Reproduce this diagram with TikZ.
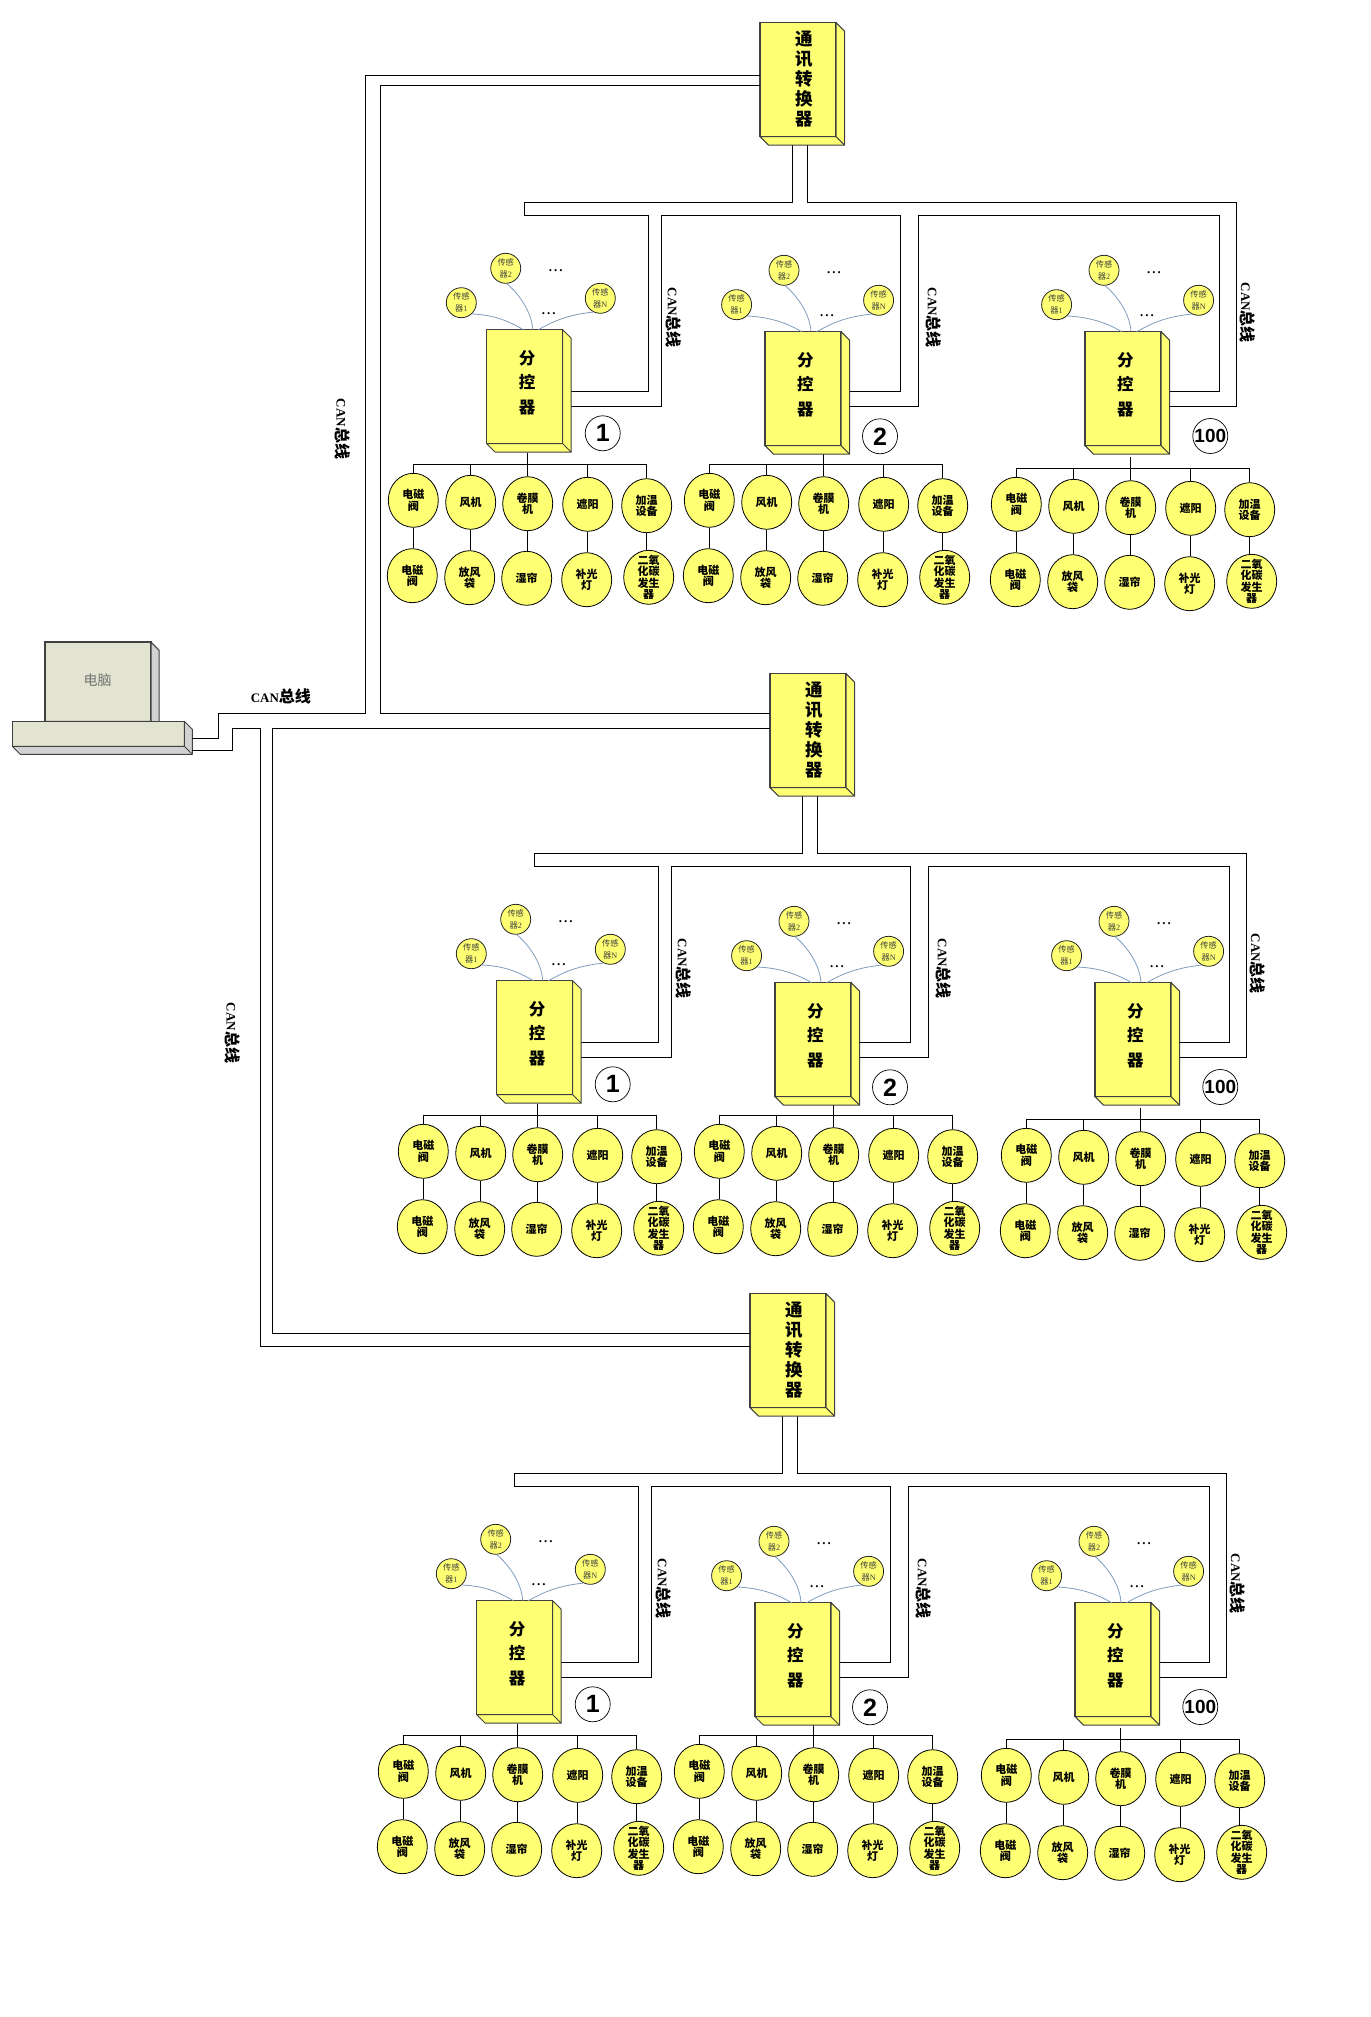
\documentclass[tikz,border=0pt]{standalone}
\usepackage{fontspec}
\setmainfont{Liberation Serif}
\newfontfamily\cjk{Noto Sans CJK SC}
\newfontfamily\numf{Liberation Sans}
\usetikzlibrary{shapes.geometric,calc}
\definecolor{boxyellow}{HTML}{FFFF73}
\definecolor{pcbody}{HTML}{E3E3D1}
\definecolor{pcgrey}{HTML}{D2D2D2}
\definecolor{sensorline}{HTML}{7F9DBD}
\tikzset{
bus/.style={line width=0.9pt},
ctrlbox/.style={rectangle, draw=black!75, line width=1.2pt, fill=boxyellow, minimum width=76pt, minimum height=114pt, inner sep=0pt, outer sep=0pt},
boxside/.style={draw=black!75, line width=1pt, line join=round, fill=boxyellow},
pcside/.style={draw=black!75, line width=1pt, line join=round, fill=pcgrey},
pcbox/.style={rectangle, draw=black!75, line width=1.2pt, fill=pcbody, inner sep=0pt, outer sep=0pt},
convtext/.style={align=center, inner sep=0pt, font=\cjk\bfseries\fontsize{17.5}{20}\selectfont},
boxtext/.style={align=center, inner sep=0pt, font=\cjk\bfseries\fontsize{16.5}{24.8}\selectfont},
device/.style={ellipse, draw=black, line width=0.8pt, fill=boxyellow, minimum width=50pt, minimum height=54pt, inner sep=-10pt, align=center, font=\cjk\bfseries\fontsize{11}{11.5}\selectfont},
sensor/.style={circle, draw=black!85, line width=0.8pt, fill=boxyellow, minimum size=30pt, inner sep=-4pt, align=center, text=black!75, font=\fontsize{8.2}{12}\selectfont},
sensorlink/.style={draw=sensorline, line width=0.8pt},
dots/.style={inner sep=0pt, font=\bfseries\fontsize{13}{13}\selectfont},
numcircle/.style={circle, draw=black, line width=0.7pt, minimum size=35pt, inner sep=0pt, font=\numf\bfseries\fontsize{25}{25}\selectfont},
canlabel/.style={inner sep=0pt, font=\bfseries\fontsize{13}{16}\selectfont},
}
\newcommand{\canword}{CAN{\cjk\fontsize{16}{16}\selectfont 总线}}
\newcommand{\sensorword}[1]{{\cjk 传感}\\{\cjk 器}#1}
\newcommand{\dotword}{.\hspace{2pt}.\hspace{2pt}.}
\newcommand{\boxface}[3][boxside]{
\filldraw[#1] (#2.north east) -- ($(#2.north east)+(#3,#3)$) -- ($(#2.south east)+(#3,#3)$) -- ($(#2.south west)+(#3,#3)$) -- (#2.south west) -- (#2.south east) -- cycle;
\draw[#1] (#2.south east) -- ($(#2.south east)+(#3,#3)$);
}
\newcommand{\ctrlunit}[6]{
\begin{scope}[shift={(#2,#3)}]
\node[sensor] (#1s1) at (461.3-#6,302.7){\sensorword{1}};
\node[sensor] (#1s2) at (505.7,268.3){\sensorword{2}};
\node[sensor] (#1s3) at (600.3,298.3){\sensorword{N}};
\node[ctrlbox] (#1box) at (524.7,386.7){};
\node[boxtext] (#1text) at (527,382.7){分\\控\\器};
\node[dots] (#1dota) at (555.7,270.5){\dotword};
\node[dots] (#1dotb) at (548.7,313.5){\dotword};
\draw[sensorlink] (#1s1.313) .. controls +(22,1) and +(-15,-9) .. ([xshift=-1.4pt]#1box.north);
\draw[sensorlink] (#1s2.274) .. controls +(12,10) and +(-1,-18) .. ([xshift=8pt]#1box.north);
\draw[sensorlink] (#1s3.243) .. controls +(-25,3) and +(18,-10) .. ([xshift=13.6pt]#1box.north);
\end{scope}
\begin{scope}[shift={(#4,#5)}]
\node[device] (#1c1) at (413.3,500.3){电磁\\阀};
\node[device] (#1c2) at (470.7,502.3){风机};
\node[device] (#1c3) at (527.7,503.7){卷膜\\机};
\node[device] (#1c4) at (587.7,504.3){遮阳};
\node[device] (#1c5) at (646.7,505.7){加温\\设备};
\node[device] (#1d1) at (412.3,575.7){电磁\\阀};
\node[device] (#1d2) at (469.7,577.7){放风\\袋};
\node[device] (#1d3) at (526.7,578.3){湿帘};
\node[device] (#1d4) at (586.7,579.7){补光\\灯};
\node[device] (#1d5) at (648.7,577.3){二氧\\化碳\\发生\\器};
\coordinate (#1bus) at (527.3,464.3);
\coordinate (#1stub) at (527.3,453);
\draw[bus] (#1stub) -- (#1bus);
\draw[bus] (#1c1.north) |- (#1bus) -| (#1c5.north);
\draw[bus] (#1c2.north) -- (#1c2.north |- #1bus);
\draw[bus] (#1c3.north) -- (#1c3.north |- #1bus);
\draw[bus] (#1c4.north) -- (#1c4.north |- #1bus);
\draw[bus] (#1c1.south) -- (#1c1.south |- #1d1.north);
\draw[bus] (#1c2.south) -- (#1c2.south |- #1d2.north);
\draw[bus] (#1c3.south) -- (#1c3.south |- #1d3.north);
\draw[bus] (#1c4.south) -- (#1c4.south |- #1d4.north);
\draw[bus] (#1c5.south) -- (#1c5.south |- #1d5.north);
\end{scope}
}
\newcommand{\ctrlblock}[3]{
\begin{scope}[shift={(#2,#3)}]
\node[ctrlbox] (#1conv) at (798,79.7){};
\node[convtext] (#1text) at (804,78.7){通\\讯\\转\\换\\器};
\ctrlunit{#1a}{0}{0}{0}{0}{0}
\ctrlunit{#1b}{278.3}{2}{296}{0}{3}
\ctrlunit{#1c}{598.3}{2}{603}{4}{3}
\node[numcircle] (#1anum) at (602.7,433.3){1};
\node[numcircle] (#1bnum) at (880,436.3){2};
\node[numcircle, font=\numf\bfseries\fontsize{19}{19}\selectfont] (#1cnum) at (1210.3,436){100};
\draw[bus] ([xshift=-5.7pt]#1conv.south) -- (792.3,202.3) -- (524.3,202.3) -- (524.3,215.3) -- (648.3,215.3) -- (648.3,391.3) -- ([yshift=-4.6pt]#1abox.east);
\draw[bus] ([yshift=-19.6pt]#1abox.east) -- (661.3,406.3) -- (661.3,215.3) -- (900.3,215.3) -- (900.3,391.3) -- ([yshift=-2.6pt]#1bbox.east);
\draw[bus] ([yshift=-17.6pt]#1bbox.east) -- (918.3,406.3) -- (918.3,215.3) -- (1219.3,215.3) -- (1219.3,391.3) -- ([yshift=-2.6pt]#1cbox.east);
\draw[bus] ([xshift=9.3pt]#1conv.south) -- (807.3,202.3) -- (1236.7,202.3) -- (1236.7,406.3) -- ([yshift=-17.6pt]#1cbox.east);
\boxface{#1conv}{8.5}
\boxface{#1abox}{8.5}
\boxface{#1bbox}{8.5}
\boxface{#1cbox}{8.5}
\node[canlabel, rotate=-90] (#1cana) at (674,317.7){\canword};
\node[canlabel, rotate=-90] (#1canb) at (934,317.7){\canword};
\node[canlabel, rotate=-90] (#1canc) at (1247.3,312.7){\canword};
\end{scope}
}
\begin{document}
\begin{tikzpicture}[x=1pt,y=-1pt]
\useasboundingbox (0,0) rectangle (1370,2017);
\ctrlblock{u}{0}{0}
\ctrlblock{v}{10}{651}
\ctrlblock{w}{-10}{1271}
\node[pcbox, minimum width=106pt, minimum height=79.3pt] (monitor) at (98,681.7){};
\boxface[pcside]{monitor}{8}
\node[inner sep=0pt, text=black!55, font=\cjk\fontsize{14}{14}\selectfont] (monitortext) at (97.7,680){电脑};
\node[pcbox, minimum width=172pt, minimum height=25pt] (pc) at (98.3,733.8){};
\boxface[pcside]{pc}{8}
\draw[bus] ([shift={(8pt,-4.2pt)}]pc.east) -- (218,738) -- (218,713.3) -- (365.7,713.3) -- (365.7,75.3) -- ([yshift=4.4pt]uconv.west);
\draw[bus] ([yshift=-5.6pt]uconv.west) -- (380.7,85.3) -- (380.7,713.3) -- ([yshift=17.4pt]vconv.west);
\draw[bus] ([shift={(8pt,-16.5pt)}]pc.east) -- (232.5,750.3) -- (232.5,728.3) -- (260.3,728.3) -- (260.3,1346.3) -- ([yshift=4.4pt]wconv.west);
\draw[bus] ([yshift=2.4pt]vconv.west) -- (272.3,728.3) -- (272.3,1333.3) -- ([yshift=17.4pt]wconv.west);
\node[canlabel] (cantop) at (280.9,696.3){\canword};
\node[canlabel, rotate=-90] (canleft) at (342.7,429){\canword};
\node[canlabel, rotate=-90] (canlower) at (232.8,1033){\canword};
\end{tikzpicture}
\end{document}
